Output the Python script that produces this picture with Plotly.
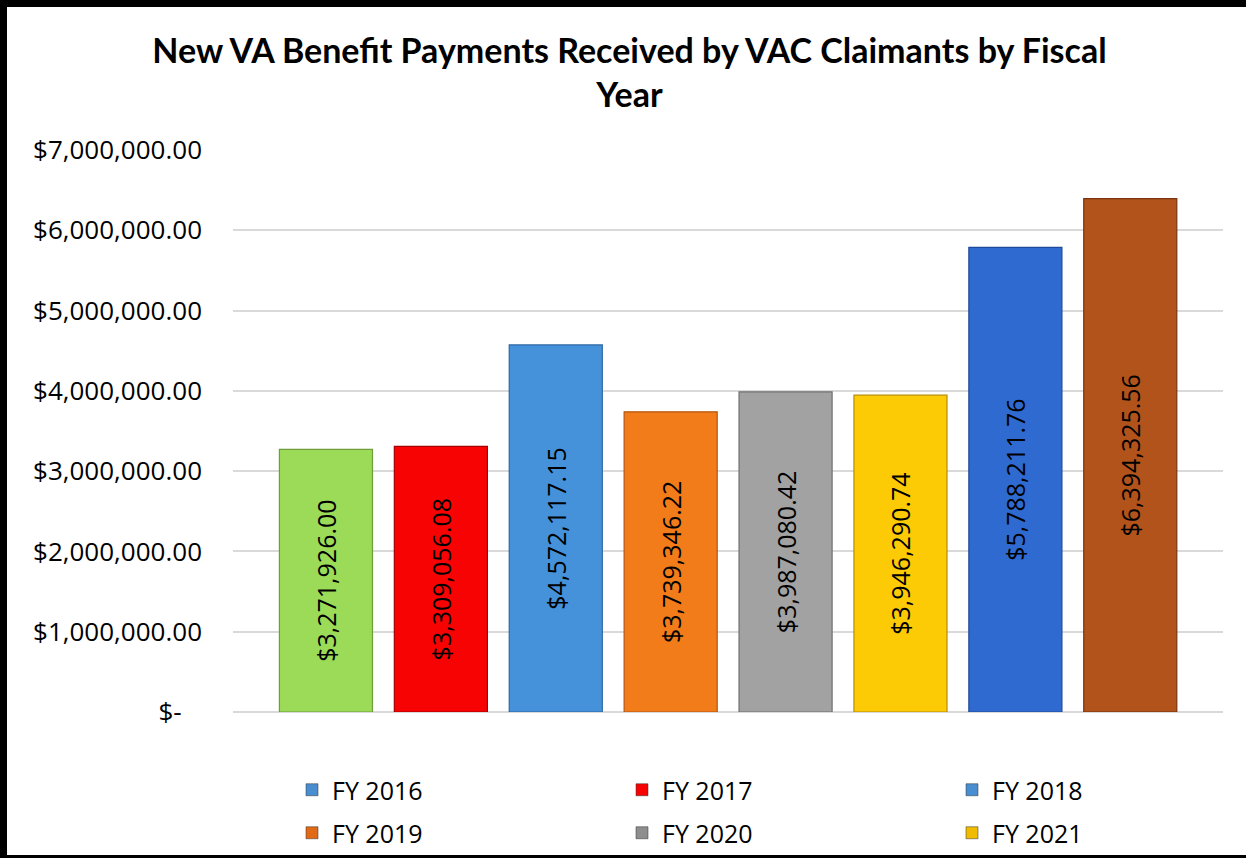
import plotly.graph_objects as go

# ---------------- data ----------------
bar_positions = [0, 1, 2, 3, 4, 5, 6, 7]
bar_values = [3271926.00, 3309056.08, 4572117.15, 3739346.22,
              3987080.42, 3946290.74, 5788211.76, 6394325.56]
bar_colors = ["#9BDB57", "#F70303", "#4592DA", "#F27B1A",
              "#A2A2A2", "#FDCB05", "#2F6AD1", "#B1531B"]
bar_edge_colors = ["#6E9E38", "#A80000", "#2E67A3", "#B5560E",
                   "#707070", "#B88E00", "#1F4A99", "#7A3410"]

legend_labels = ["FY 2016", "FY 2017", "FY 2018", "FY 2019", "FY 2020", "FY 2021"]
legend_colors = ["#4A8ED2", "#F70303", "#4A8ED2", "#E26A16", "#8E8E8E", "#F0BC00"]
legend_groups = ["legend", "legend", "legend", "legend2", "legend2", "legend2"]

tick_values = [0, 1000000, 2000000, 3000000, 4000000, 5000000, 6000000, 7000000]
tick_labels = ["$-\u00a0\u00a0\u00a0", "$1,000,000.00", "$2,000,000.00", "$3,000,000.00",
               "$4,000,000.00", "$5,000,000.00", "$6,000,000.00", "$7,000,000.00"]

title_text = "New VA Benefit Payments Received by VAC Claimants by Fiscal<br>Year"

# ---------------- layout geometry (pixels) ----------------
W, H = 1246, 858
L, R, T, B = 233, 1223, 150, 712   # plot area edges
FONT = "Open Sans"
TITLE_FONT = "Lato"

def px_x(p):
    return (p - L) / (R - L)

def px_y(p):
    return (B - p) / (B - T)

fig = go.Figure()

fig.add_trace(go.Bar(
    x=bar_positions,
    y=bar_values,
    width=0.81,
    marker=dict(color=bar_colors, line=dict(color=bar_edge_colors, width=1.2)),
    texttemplate="%{y:$,.2f}",
    textposition="inside",
    insidetextanchor="middle",
    textangle=-90,
    textfont=dict(family=FONT, size=25, color="black"),
    showlegend=False,
    hoverinfo="skip",
))

for name, col, lg in zip(legend_labels, legend_colors, legend_groups):
    fig.add_trace(go.Bar(
        x=[None], y=[None], name=name,
        marker=dict(color=col, line=dict(color="#333333", width=0.5)),
        legend=lg, showlegend=True,
    ))

# black frame (left, top, bottom edges)
frame = [
    (0, 0, 7, H),       # left
    (0, 0, W, 7),       # top
    (0, 855, W, H),     # bottom
]
for x0, y0, x1, y1 in frame:
    fig.add_shape(type="rect", xref="paper", yref="paper",
                  x0=px_x(x0), x1=px_x(x1), y0=px_y(y1), y1=px_y(y0),
                  fillcolor="black", line=dict(width=0), layer="above")

legend_common = dict(
    orientation="h",
    xanchor="left",
    yanchor="middle",
    font=dict(family=FONT, size=25, color="black"),
    entrywidth=285,
    entrywidthmode="pixels",
    bgcolor="rgba(0,0,0,0)",
    itemclick=False,
    itemdoubleclick=False,
)

fig.update_layout(
    width=W, height=H,
    paper_bgcolor="white",
    plot_bgcolor="white",
    margin=dict(l=L, r=W - R, t=T, b=H - B, pad=0, autoexpand=False),
    title=dict(
        text=title_text,
        font=dict(family=TITLE_FONT, size=34, color="black", weight="bold"),
        x=629.5 / W, xanchor="center",
        y=1 - 63 / H, yanchor="top",
        yref="container", xref="container",
    ),
    xaxis=dict(
        range=[-0.809, 7.807],
        showticklabels=False, showgrid=False, zeroline=False,
        showline=False, fixedrange=True,
    ),
    yaxis=dict(
        range=[0, 7000000],
        tickmode="array", tickvals=tick_values, ticktext=tick_labels,
        tickfont=dict(family=FONT, size=26, color="black"),
        showgrid=True, gridcolor="#D9D9D9", gridwidth=1.5,
        zeroline=True, zerolinecolor="#D9D9D9", zerolinewidth=1.5,
        showline=False, ticks="", ticklabelstandoff=30,
        fixedrange=True,
    ),
    legend=dict(x=px_x(292), y=px_y(790), **legend_common),
    legend2=dict(x=px_x(292), y=px_y(833), **legend_common),
    barmode="overlay",
)

fig.write_html("out.html", config={"displayModeBar": False},
               post_script="document.body.style.margin='0px';")
